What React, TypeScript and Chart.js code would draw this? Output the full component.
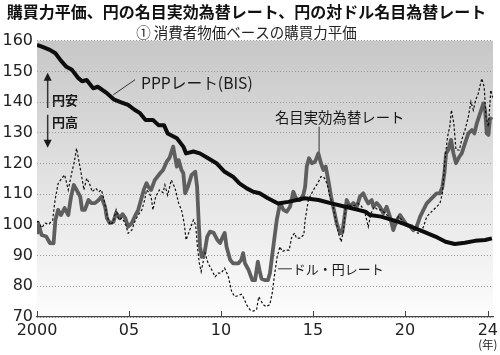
import React, { useEffect, useRef } from "react";
import { Chart, registerables } from "chart.js";

Chart.register(...registerables);

const TITLE = "購買力平価、円の名目実効為替レート、円の対ドル名目為替レート";
const SUBTITLE = "① 消費者物価ベースの購買力平価";

const xTickYears = [2000, 2005, 2010, 2015, 2020, 2024.5];
const xTickLabels = ["2000", "05", "10", "15", "20", "24"];
const yTickMin = 70;
const yTickMax = 160;
const yTickStep = 10;

// PPP rate (BIS) – yen per dollar
const pppYears = [2000.0, 2000.3, 2000.7, 2001.0, 2001.3, 2001.6, 2001.9, 2002.25, 2002.45, 2002.7, 2003.05, 2003.3, 2003.8, 2004.2, 2004.5, 2004.95, 2005.3, 2005.6, 2005.9, 2006.3, 2006.6, 2006.9, 2007.1, 2007.6, 2007.95, 2008.1, 2008.5, 2008.85, 2009.3, 2009.75, 2010.2, 2010.65, 2011.0, 2011.4, 2011.75, 2012.1, 2012.55, 2013.1, 2013.65, 2014.55, 2015.3, 2016.0, 2016.75, 2017.45, 2017.85, 2018.1, 2018.7, 2019.65, 2020.35, 2021.0, 2021.65, 2022.2, 2022.7, 2023.25, 2023.8, 2024.35, 2024.72];
const pppValues = [158.6, 158.0, 157.0, 155.9, 153.5, 151.5, 150.5, 147.8, 146.8, 147.2, 144.5, 145.0, 142.9, 140.8, 140.1, 139.1, 137.5, 136.4, 134.2, 134.2, 132.5, 132.5, 129.8, 128.2, 125.5, 123.3, 123.9, 123.3, 121.7, 120.1, 117.3, 115.7, 113.5, 111.9, 110.8, 110.3, 108.7, 107.0, 107.5, 108.7, 108.1, 107.0, 105.9, 104.9, 104.3, 103.2, 102.7, 101.0, 99.4, 97.8, 96.2, 94.5, 93.8, 94.2, 94.8, 95.1, 95.6];

// Nominal effective exchange rate (rescaled)
const neerYears = [2000.0, 2000.1, 2000.25, 2000.5, 2000.7, 2000.9, 2001.0, 2001.15, 2001.3, 2001.5, 2001.7, 2001.85, 2002.0, 2002.15, 2002.35, 2002.45, 2002.6, 2002.8, 2002.95, 2003.15, 2003.35, 2003.5, 2003.7, 2003.8, 2003.95, 2004.15, 2004.3, 2004.5, 2004.65, 2004.8, 2004.95, 2005.15, 2005.35, 2005.5, 2005.65, 2005.8, 2005.95, 2006.05, 2006.2, 2006.4, 2006.7, 2006.85, 2007.05, 2007.2, 2007.4, 2007.5, 2007.6, 2007.7, 2007.85, 2007.95, 2008.05, 2008.2, 2008.4, 2008.6, 2008.7, 2008.8, 2008.86, 2008.95, 2009.1, 2009.25, 2009.4, 2009.6, 2009.8, 2009.95, 2010.1, 2010.2, 2010.3, 2010.5, 2010.65, 2010.95, 2011.1, 2011.2, 2011.3, 2011.5, 2011.7, 2011.85, 2012.0, 2012.1, 2012.2, 2012.4, 2012.55, 2012.66, 2012.84, 2013.03, 2013.21, 2013.39, 2013.57, 2013.75, 2013.93, 2014.11, 2014.29, 2014.47, 2014.57, 2014.66, 2014.78, 2014.93, 2015.11, 2015.29, 2015.43, 2015.56, 2015.69, 2015.83, 2015.98, 2016.1, 2016.29, 2016.47, 2016.59, 2016.74, 2016.83, 2017.01, 2017.19, 2017.38, 2017.55, 2017.73, 2017.88, 2018.0, 2018.19, 2018.28, 2018.46, 2018.64, 2018.82, 2019.0, 2019.18, 2019.36, 2019.55, 2019.73, 2019.91, 2020.09, 2020.27, 2020.45, 2020.64, 2020.82, 2021.0, 2021.18, 2021.36, 2021.54, 2021.72, 2021.9, 2022.03, 2022.14, 2022.23, 2022.35, 2022.5, 2022.63, 2022.77, 2022.95, 2023.08, 2023.26, 2023.44, 2023.63, 2023.77, 2023.9, 2024.08, 2024.26, 2024.35, 2024.44, 2024.53, 2024.62, 2024.74];
const neerValues = [97.0, 100.0, 96.7, 96.2, 94.1, 94.0, 101.6, 104.9, 103.2, 105.5, 103.2, 109.2, 113.0, 111.4, 109.2, 104.9, 104.9, 108.1, 107.1, 107.1, 108.1, 109.2, 105.9, 102.2, 100.6, 101.0, 103.9, 102.2, 103.5, 102.2, 99.4, 100.6, 103.2, 104.9, 108.1, 111.4, 113.6, 112.4, 111.4, 114.6, 116.9, 117.9, 120.6, 121.8, 125.5, 122.2, 119.0, 121.1, 117.9, 116.9, 110.3, 112.4, 116.3, 117.3, 112.4, 99.4, 92.9, 89.6, 90.8, 96.2, 97.8, 97.4, 95.1, 94.1, 96.2, 97.4, 92.9, 88.6, 87.5, 87.5, 88.6, 90.8, 87.5, 85.3, 82.0, 82.0, 88.0, 85.0, 82.5, 82.0, 82.0, 84.3, 92.9, 101.6, 107.1, 104.9, 104.3, 105.9, 110.8, 108.1, 108.1, 109.7, 112.4, 119.0, 121.7, 120.1, 120.6, 123.3, 120.1, 117.9, 119.0, 114.6, 109.2, 105.9, 100.5, 97.3, 97.5, 103.8, 108.1, 105.9, 107.1, 105.9, 109.2, 110.3, 108.3, 107.0, 108.1, 105.9, 107.1, 105.9, 103.8, 105.9, 102.7, 98.3, 101.6, 103.2, 101.6, 100.0, 99.5, 98.3, 99.5, 102.7, 104.9, 107.0, 108.1, 109.2, 110.3, 110.3, 112.4, 116.8, 123.3, 124.4, 127.7, 123.3, 120.1, 122.2, 123.3, 126.6, 129.8, 130.9, 129.8, 133.1, 136.3, 139.6, 137.4, 129.8, 129.3, 134.7, 134.3];

// Yen per US dollar
const usdYears = [2000.0, 2000.05, 2000.25, 2000.45, 2000.65, 2000.85, 2000.98, 2001.15, 2001.35, 2001.5, 2001.7, 2001.9, 2002.03, 2002.15, 2002.25, 2002.4, 2002.55, 2002.7, 2002.85, 2003.0, 2003.2, 2003.35, 2003.5, 2003.65, 2003.8, 2003.98, 2004.15, 2004.3, 2004.45, 2004.6, 2004.8, 2004.95, 2005.15, 2005.35, 2005.5, 2005.7, 2005.85, 2005.95, 2006.05, 2006.2, 2006.3, 2006.45, 2006.65, 2006.85, 2006.95, 2007.1, 2007.3, 2007.5, 2007.7, 2007.85, 2008.0, 2008.1, 2008.3, 2008.5, 2008.62, 2008.72, 2008.82, 2008.92, 2009.05, 2009.13, 2009.3, 2009.5, 2009.68, 2009.85, 2010.0, 2010.2, 2010.4, 2010.58, 2010.75, 2010.95, 2011.1, 2011.2, 2011.4, 2011.58, 2011.75, 2011.93, 2012.05, 2012.15, 2012.3, 2012.45, 2012.65, 2012.78, 2012.92, 2013.05, 2013.2, 2013.33, 2013.5, 2013.7, 2013.85, 2014.0, 2014.1, 2014.3, 2014.5, 2014.57, 2014.66, 2014.75, 2014.93, 2015.07, 2015.25, 2015.43, 2015.56, 2015.69, 2015.8, 2015.92, 2016.05, 2016.2, 2016.38, 2016.53, 2016.66, 2016.75, 2016.92, 2017.1, 2017.28, 2017.46, 2017.64, 2017.83, 2018.0, 2018.15, 2018.33, 2018.52, 2018.73, 2018.91, 2019.1, 2019.28, 2019.46, 2019.64, 2019.82, 2020.0, 2020.18, 2020.37, 2020.55, 2020.69, 2020.82, 2021.0, 2021.18, 2021.36, 2021.54, 2021.72, 2021.9, 2022.03, 2022.17, 2022.31, 2022.43, 2022.52, 2022.65, 2022.77, 2022.95, 2023.08, 2023.26, 2023.44, 2023.58, 2023.71, 2023.84, 2023.98, 2024.17, 2024.3, 2024.4, 2024.53, 2024.66, 2024.76];
const usdValues = [100.5, 101.6, 99.0, 100.6, 100.3, 101.5, 108.1, 113.5, 115.2, 116.3, 111.4, 117.3, 120.6, 124.9, 121.7, 116.8, 111.4, 115.2, 113.5, 110.8, 111.9, 110.8, 111.4, 108.1, 103.2, 100.0, 101.0, 104.9, 101.6, 102.2, 100.6, 97.3, 98.3, 101.6, 103.2, 104.9, 108.1, 111.4, 110.8, 109.2, 104.9, 109.2, 111.4, 110.5, 113.0, 109.7, 114.6, 112.0, 107.0, 104.9, 100.5, 95.1, 98.3, 101.6, 100.0, 92.9, 87.5, 84.8, 88.6, 90.8, 87.5, 85.3, 83.1, 84.3, 84.3, 85.9, 83.1, 78.2, 76.6, 77.0, 77.4, 76.6, 73.9, 72.3, 71.9, 72.3, 76.6, 75.5, 74.0, 73.4, 74.0, 77.7, 84.2, 89.6, 92.9, 91.3, 91.8, 91.8, 96.2, 97.3, 95.7, 95.7, 96.8, 101.6, 104.9, 108.1, 110.3, 111.9, 113.5, 115.7, 115.7, 114.6, 112.4, 109.2, 107.0, 102.7, 97.3, 94.5, 98.3, 104.9, 106.9, 106.0, 106.4, 107.0, 106.0, 103.8, 99.4, 103.8, 105.9, 104.9, 104.9, 103.8, 102.7, 101.6, 100.5, 102.7, 101.6, 100.0, 99.4, 98.9, 98.3, 97.3, 97.3, 99.4, 102.7, 103.8, 104.9, 105.9, 107.1, 110.3, 121.1, 128.7, 132.0, 137.4, 133.1, 124.4, 124.4, 127.7, 130.9, 135.2, 140.1, 137.4, 140.7, 142.8, 147.7, 145.0, 135.2, 132.0, 143.9, 141.5];

const JP = "'Noto Sans CJK JP', 'Noto Sans', sans-serif";
const NUM = "'DejaVu Sans', sans-serif";

const toPoints = (xs: number[], ys: number[]) => xs.map((x, i) => ({ x, y: ys[i] }));

const backgroundPlugin = {
  id: "bgGradient",
  beforeDraw(chart: any) {
    const { ctx, chartArea } = chart;
    if (!chartArea) return;
    const g = ctx.createLinearGradient(0, chartArea.top, 0, chartArea.bottom);
    g.addColorStop(0, "#c7c7c7");
    g.addColorStop(0.5, "#e2e2e2");
    g.addColorStop(1, "#fdfdfd");
    ctx.save();
    ctx.fillStyle = g;
    ctx.fillRect(chartArea.left, chartArea.top, chartArea.right - chartArea.left, chartArea.bottom - chartArea.top);
    ctx.restore();
  },
};

const annotationPlugin = {
  id: "annotations",
  afterDatasetsDraw(chart: any) {
    const { ctx, scales } = chart;
    const xs = scales.x;
    const ys = scales.y;
    const X = (v: number) => xs.getPixelForValue(v);
    const Y = (v: number) => ys.getPixelForValue(v);
    ctx.save();
    ctx.strokeStyle = "#333";
    ctx.fillStyle = "#1a1a1a";
    ctx.lineWidth = 1;

    // leader lines
    ctx.beginPath();
    ctx.moveTo(X(2004.15), Y(142.4));
    ctx.lineTo(X(2005.33), Y(147.3));
    ctx.moveTo(X(2015.33), Y(132.0));
    ctx.lineTo(X(2015.33), Y(123.8));
    ctx.moveTo(X(2013.1), Y(85.7));
    ctx.lineTo(X(2013.85), Y(85.7));
    ctx.stroke();

    // labels
    ctx.textBaseline = "middle";
    ctx.textAlign = "left";
    ctx.font = `15.7px ${JP}`;
    ctx.fillText("PPPレート(BIS)", X(2005.65), Y(146.3));
    ctx.font = `14.4px ${JP}`;
    ctx.fillText("名目実効為替レート", X(2012.93), Y(134.9));
    ctx.font = `13px ${JP}`;
    ctx.fillText("ドル・円レート", X(2013.9), Y(85.7));

    // yen weak / strong arrows
    const ax = X(2000.58);
    ctx.lineWidth = 1.5;
    ctx.beginPath();
    ctx.moveTo(ax, Y(138.1));
    ctx.lineTo(ax, Y(148));
    ctx.moveTo(ax, Y(135.9));
    ctx.lineTo(ax, Y(126.5));
    ctx.stroke();
    ctx.beginPath();
    const tu = Y(149.6);
    ctx.moveTo(ax, tu);
    ctx.lineTo(ax - 4, tu + 8);
    ctx.lineTo(ax + 4, tu + 8);
    ctx.closePath();
    const td = Y(125.1);
    ctx.moveTo(ax, td);
    ctx.lineTo(ax - 4, td - 8);
    ctx.lineTo(ax + 4, td - 8);
    ctx.closePath();
    ctx.fill();

    ctx.font = `bold 13px ${JP}`;
    ctx.fillText("円安", X(2000.82), Y(140.8));
    ctx.fillText("円高", X(2000.82), Y(133.6));

    // unit under last tick
    ctx.font = `11.5px ${JP}`;
    ctx.textAlign = "center";
    ctx.fillStyle = "#222";
    ctx.fillText("(年)", X(2024.5), 345);
    ctx.restore();
  },
  afterDraw(chart: any) {
    const { ctx, scales, chartArea } = chart;
    const xs = scales.x;
    ctx.save();
    ctx.strokeStyle = "#444";
    ctx.lineWidth = 1;
    ctx.beginPath();
    xTickYears.forEach((v) => {
      const px = Math.round(xs.getPixelForValue(v)) + 0.5;
      ctx.moveTo(px, chartArea.bottom);
      ctx.lineTo(px, chartArea.bottom - 6);
    });
    ctx.stroke();
    ctx.restore();
  },
};

export default function App() {
  const ref = useRef<HTMLCanvasElement | null>(null);
  useEffect(() => {
    document.body.style.margin = "0";
    const canvas = ref.current;
    if (!canvas) return;
    const chart = new Chart(canvas, {
      type: "line",
      data: {
        datasets: [
          {
            label: "PPPレート(BIS)",
            data: toPoints(pppYears, pppValues),
            borderColor: "#0d0d0d",
            borderWidth: 4,
            pointRadius: 0,
            tension: 0,
            borderJoinStyle: "round",
          },
          {
            label: "ドル・円レート",
            data: toPoints(usdYears, usdValues),
            borderColor: "#111",
            borderWidth: 1.2,
            borderDash: [2.5, 2],
            pointRadius: 0,
            tension: 0,
          },
          {
            label: "名目実効為替レート",
            data: toPoints(neerYears, neerValues),
            borderColor: "#5e5e5e",
            borderWidth: 3.8,
            pointRadius: 0,
            tension: 0,
            borderJoinStyle: "round",
          },
        ],
      },
      options: {
        animation: false,
        responsive: false,
        devicePixelRatio: 1,
        layout: { padding: { left: 0, right: 7, top: 0, bottom: 0 } },
        plugins: {
          legend: { display: false },
          tooltip: { enabled: false },
          title: {
            display: true,
            text: TITLE,
            color: "#111",
            font: { family: JP, size: 16, weight: "bold" },
            padding: { top: 2.3, bottom: 0 },
          },
          subtitle: {
            display: true,
            text: SUBTITLE,
            color: "#222",
            font: { family: JP, size: 14.5, weight: "normal" },
            padding: { top: 1.8, bottom: 0 },
          },
        },
        scales: {
          x: {
            type: "linear",
            min: 2000,
            max: 2024.78,
            grid: { display: false, drawTicks: false },
            border: { display: true, color: "#444", width: 1.2 },
            afterBuildTicks: (scale: any) => {
              scale.ticks = xTickYears.map((v) => ({ value: v }));
            },
            afterFit: (scale: any) => {
              scale.height = 38;
              scale.paddingLeft = 0;
              scale.paddingRight = 0;
            },
            ticks: {
              autoSkip: false,
              maxRotation: 0,
              padding: 4,
              color: "#222",
              font: { family: NUM, size: 16 },
              callback: (value: any) => {
                const i = xTickYears.indexOf(Number(value));
                return i >= 0 ? xTickLabels[i] : "";
              },
            },
          },
          y: {
            min: yTickMin,
            max: yTickMax,
            grid: { color: "#9a9a9a", lineWidth: 1, drawTicks: false },
            border: { display: false, dash: [1, 2] },
            afterFit: (scale: any) => {
              scale.width = 37;
              scale.paddingTop = 0;
              scale.paddingBottom = 0;
            },
            ticks: {
              stepSize: yTickStep,
              padding: 4,
              color: "#222",
              font: { family: NUM, size: 16 },
            },
          },
        },
      },
      plugins: [backgroundPlugin, annotationPlugin],
    } as any);
    return () => chart.destroy();
  }, []);
  return (
    <div style={{ width: 500, height: 355 }}>
      <canvas ref={ref} width={500} height={355} />
    </div>
  );
}
